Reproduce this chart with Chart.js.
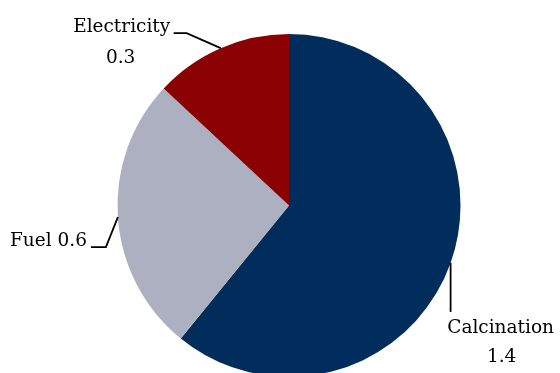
<!DOCTYPE html>
<html>
<head>
<meta charset="utf-8">
<script src="https://cdn.jsdelivr.net/npm/chart.js@4"></script>
<style>
  html, body { margin: 0; padding: 0; background: #fff; overflow: hidden; }
  #wrap { width: 560px; height: 373px; overflow: hidden; }
</style>
</head>
<body>
<div id="wrap"><canvas id="myChart" width="560" height="411"></canvas></div>
<script>
var categories = ["Calcination", "Fuel", "Electricity"];
var values = [1.4, 0.6, 0.3];
var valueLabels = ["1.4", "0.6", "0.3"];
var colors = ["#002D5B", "#ADB0C0", "#8B0000"];

// leader line + text placement, relative to the slice's mid point on the rim
var labelPlacement = [
  { path: [[0, 49]], lines: [[categories[0], 50, 70], [valueLabels[0], 51, 99]], align: "center" },
  { path: [[-12, 30], [-27, 30]], inline: true, dx: -31, dy: 29 },
  { path: [[-34, -15], [-47, -15]], lines: [[categories[2], -99, -16], [valueLabels[2], -100, 15]], align: "center" }
];

var leaderLabels = {
  id: "leaderLabels",
  afterDatasetsDraw: function (chart) {
    var ctx = chart.ctx;
    var meta = chart.getDatasetMeta(0);
    ctx.save();
    ctx.font = "18.5px 'DejaVu Serif'";
    ctx.fillStyle = "#000";
    ctx.strokeStyle = "#000";
    ctx.lineWidth = 1.8;
    ctx.textBaseline = "alphabetic";
    meta.data.forEach(function (arc, i) {
      var p = arc.getProps(["x", "y", "startAngle", "endAngle", "outerRadius"], true);
      var mid = (p.startAngle + p.endAngle) / 2;
      var ax = p.x + p.outerRadius * Math.cos(mid);
      var ay = p.y + p.outerRadius * Math.sin(mid);
      var lp = labelPlacement[i];
      ctx.beginPath();
      ctx.moveTo(ax, ay);
      lp.path.forEach(function (pt) { ctx.lineTo(ax + pt[0], ay + pt[1]); });
      ctx.stroke();
      if (lp.inline) {
        ctx.textAlign = "right";
        ctx.fillText(categories[i] + " " + valueLabels[i], ax + lp.dx, ay + lp.dy);
      } else {
        ctx.textAlign = lp.align;
        lp.lines.forEach(function (ln) {
          ctx.fillText(ln[0], ax + ln[1], ay + ln[2]);
        });
      }
    });
    ctx.restore();
  }
};

var ctx = document.getElementById('myChart').getContext('2d');
var myChart = new Chart(ctx, {
  type: 'pie',
  data: {
    labels: categories,
    datasets: [{
      data: values,
      backgroundColor: colors,
      borderWidth: 0,
      offset: 0
    }]
  },
  options: {
    responsive: false,
    maintainAspectRatio: false,
    animation: false,
    layout: { padding: { left: 117.5, right: 99.5, top: 34, bottom: 34 } },
    plugins: {
      legend: { display: false },
      tooltip: { enabled: false }
    }
  },
  plugins: [leaderLabels]
});
</script>
</body>
</html>
